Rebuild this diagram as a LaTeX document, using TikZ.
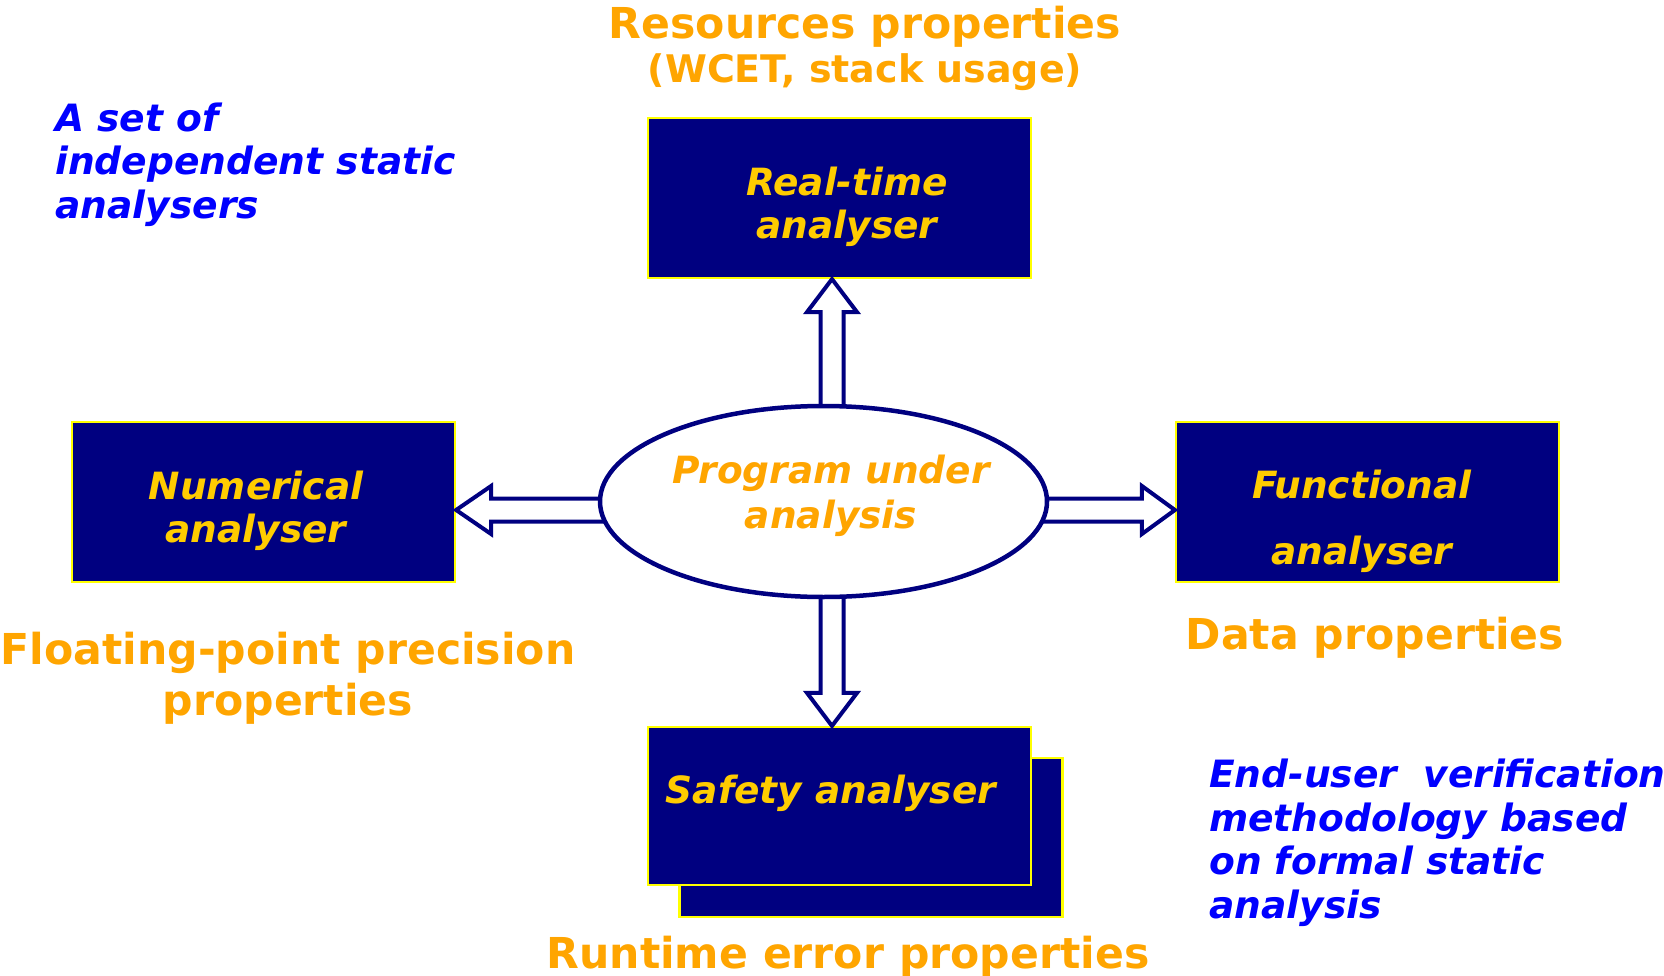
\documentclass[tikz,border=0pt]{standalone}
\usepackage{fontspec}
\setmainfont{DejaVu Sans}[
  BoldFont={DejaVu Sans Bold},
  ItalicFont={DejaVu Sans Oblique},
  BoldItalicFont={DejaVu Sans Bold Oblique}]
\usetikzlibrary{calc,shapes.geometric}

\definecolor{boxnavy}{HTML}{000080}
\definecolor{boxyellow}{HTML}{FFFF00}
\definecolor{boxgold}{HTML}{FFCC00}
\definecolor{proporange}{HTML}{FFA500}
\definecolor{noteblue}{HTML}{0000FF}

\tikzset{
  box/.style={draw=boxyellow, line width=2.2pt, fill=boxnavy,
    minimum width=383pt, minimum height=160pt, inner sep=0pt},
  boxtext/.style={text=boxgold, inner sep=0pt, align=center,
    font=\fontsize{37.5}{43}\selectfont\bfseries\itshape},
  proplabel/.style={text=proporange, inner sep=0pt, align=center,
    font=\fontsize{42.6}{51}\selectfont\bfseries},
  sublabel/.style={text=proporange, inner sep=0pt, align=center,
    font=\fontsize{38}{44}\selectfont\bfseries},
  note/.style={text=noteblue, inner sep=0pt, align=left, anchor=west,
    font=\fontsize{37.6}{43.5}\selectfont\bfseries\itshape},
  progtextstyle/.style={text=proporange, inner sep=0pt, align=center,
    font=\fontsize{37.5}{45}\selectfont\bfseries\itshape},
  blockarrow/.style={draw=boxnavy, line width=4pt, fill=white, line join=miter},
}

\begin{document}
\begin{tikzpicture}[x=1pt, y=-1pt]
\useasboundingbox (0,0) rectangle (1664,976);

% analyser boxes
\node[box] (rt)   at (839.5,198) {};
\node[box] (num)  at (263.5,502) {};
\node[box] (fun)  at (1367.5,502) {};
\node[box, minimum height=159pt] (safback) at (871,837.5) {};
\node[box, minimum height=158pt] (saf)     at (839.5,806) {};

% central program
\node[ellipse, minimum width=447pt, minimum height=191pt, inner sep=0pt] (prog) at (823.5,501.5) {};

% block arrows from the program to each analyser
\coordinate (upbase) at ($(prog.north)+(8.5,10)$);
\coordinate (uptip)  at (rt.south -| upbase);
\draw[blockarrow] (uptip) -- ($(uptip)+(25,33)$) -- ($(uptip)+(11.5,33)$)
  -- ($(upbase)+(11.5,0)$) -- ($(upbase)+(-11.5,0)$)
  -- ($(uptip)+(-11.5,33)$) -- ($(uptip)+(-25,33)$) -- cycle;

\coordinate (dnbase) at ($(prog.south)+(8.5,-10)$);
\coordinate (dntip)  at (saf.north -| dnbase);
\draw[blockarrow] (dntip) -- ($(dntip)+(25,-33)$) -- ($(dntip)+(11.5,-33)$)
  -- ($(dnbase)+(11.5,0)$) -- ($(dnbase)+(-11.5,0)$)
  -- ($(dntip)+(-11.5,-33)$) -- ($(dntip)+(-25,-33)$) -- cycle;

\coordinate (lfbase) at ($(prog.west)+(12,8.5)$);
\coordinate (lftip)  at (num.east |- lfbase);
\draw[blockarrow] (lftip) -- ($(lftip)+(35,-24)$) -- ($(lftip)+(35,-11.5)$)
  -- ($(lfbase)+(0,-11.5)$) -- ($(lfbase)+(0,11.5)$)
  -- ($(lftip)+(35,11.5)$) -- ($(lftip)+(35,24)$) -- cycle;

\coordinate (rtbase) at ($(prog.east)+(-12,8.5)$);
\coordinate (rttip)  at (fun.west |- rtbase);
\draw[blockarrow] (rttip) -- ($(rttip)+(-33,-24)$) -- ($(rttip)+(-33,-11.5)$)
  -- ($(rtbase)+(0,-11.5)$) -- ($(rtbase)+(0,11.5)$)
  -- ($(rttip)+(-33,11.5)$) -- ($(rttip)+(-33,24)$) -- cycle;

\node[ellipse, draw=boxnavy, line width=4.5pt, fill=white,
  minimum width=447pt, minimum height=191pt, inner sep=0pt] (progshape) at (prog.center) {};

% texts inside the shapes
\node[progtextstyle] (progtext) at (831,495.5) {Program under\\analysis};
\node[boxtext] (rttext)  at (847,207) {Real-time\\analyser};
\node[boxtext] (numtext) at (256,510.5) {Numerical\\analyser};
\node[boxtext] (funtext) at (1362,521.5) {Functional\\[23pt]analyser};
\node[boxtext] (saftext) at (831,793.5) {Safety analyser};

% property labels
\node[proplabel] (res)     at (865,27)    {Resources properties};
\node[sublabel]  (ressub)  at (865,72)    {(WCET, stack usage)};
\node[proplabel] (fpp)     at (288,678.5) {Floating-point precision\\properties};
\node[proplabel] (data)    at (1375,638)  {Data properties};
\node[proplabel] (runtime) at (848,957)   {Runtime error properties};

% side notes
\node[note] (setnote) at (55,164.5) {A set of\\independent static\\analysers};
\node[note] (endnote) at (1209,843) {End-user\ \ verification\\methodology based\\on formal static\\analysis};
\end{tikzpicture}
\end{document}
